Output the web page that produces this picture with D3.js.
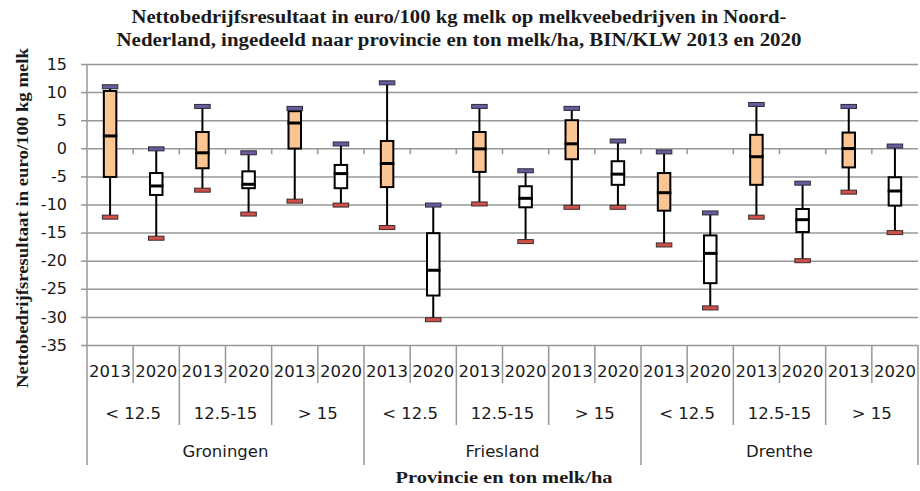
<!DOCTYPE html>
<html><head><meta charset="utf-8">
<script src="https://cdn.jsdelivr.net/npm/d3@7"></script>
<style>body{margin:0;background:#fff}text{fill:#1a1a1a}</style>
</head><body>
<svg id="c" width="920" height="491"></svg>
<script>
// ---- data ----
const provinces = ["Groningen", "Friesland", "Drenthe"];
const ranges = ["< 12.5", "12.5-15", "> 15"];
const years = ["2013", "2020"];
// order: Groningen(<12.5 2013, <12.5 2020, 12.5-15 2013, 12.5-15 2020, >15 2013, >15 2020), Friesland(...), Drenthe(...)
const maxV = [10.95, -0.1, 7.45, -0.8, 7.1, 0.77, 11.65, -10.1, 7.45, -4.0, 7.1, 1.3, -0.65, -11.5, 7.8, -6.2, 7.45, 0.4];
const q3V  = [10.2, -4.4, 2.9, -4.1, 6.6, -2.96, 1.3, -15.1, 2.9, -6.75, 5.0, -2.3, -4.4, -15.5, 2.4, -10.8, 2.8, -5.15];
const medV = [2.2, -6.7, -0.8, -6.4, 4.5, -4.5, -2.7, -21.7, -0.1, -8.9, 0.8, -4.6, -7.9, -18.7, -1.5, -12.7, -0.05, -7.6];
const q1V  = [-5.1, -8.3, -3.55, -7.1, -0.05, -7.1, -6.9, -26.2, -4.2, -10.5, -1.95, -6.5, -11.1, -24.0, -6.5, -14.9, -3.4, -10.2];
const minV = [-12.25, -16.0, -7.45, -11.7, -9.4, -10.1, -14.1, -30.5, -9.9, -16.6, -10.5, -10.5, -17.2, -28.4, -12.25, -20.0, -7.8, -15.0];
const yTicks = [15, 10, 5, 0, -5, -10, -15, -20, -25, -30, -35];
const yTickLabels = ["15", "10", "5", "0", "-5", "-10", "-15", "-20", "-25", "-30", "-35"];
const titleLines = ["Nettobedrijfsresultaat  in euro/100 kg melk op melkveebedrijven in Noord-",
                    "Nederland, ingedeeld naar provincie en ton melk/ha, BIN/KLW 2013 en 2020"];
const yTitle = "Nettobedrijfsresultaat  in euro/100 kg melk";
const xTitle = "Provincie en ton melk/ha";

// ---- build ----
const cats = [];
provinces.forEach(p => ranges.forEach(r => years.forEach(y => cats.push({p, r, y, key: p + "|" + r + "|" + y}))));
cats.forEach((c, i) => { c.max = maxV[i]; c.q3 = q3V[i]; c.med = medV[i]; c.q1 = q1V[i]; c.min = minV[i]; });

const svg = d3.select("#c");
const L = 87, R = 918, T = 64, B = 345;
const x = d3.scaleBand().domain(cats.map(c => c.key)).range([L, R]);
const y = d3.scaleLinear().domain([-35, 15]).range([B, T]);
const grid = "#979797";
const labelFont = "'DejaVu Sans', sans-serif";
const serif = "'Liberation Serif', 'Times New Roman', serif";

// gridlines
const g = svg.append("g").attr("transform", `translate(${L},0)`)
  .call(d3.axisLeft(y).tickValues(yTicks).tickSize(-(R - L)).tickFormat(""));
g.select(".domain").remove();
g.selectAll("line").attr("stroke", grid).attr("stroke-width", 1.5);

// y axis
const ya = svg.append("g").attr("transform", `translate(${L},0)`)
  .call(d3.axisLeft(y).tickValues(yTicks).tickSize(6).tickPadding(14)
    .tickFormat((d, i) => yTickLabels[i]));
ya.select(".domain").remove();
ya.selectAll("line").attr("stroke", grid).attr("stroke-width", 1.5);
ya.selectAll("text").attr("font-family", labelFont).attr("font-size", 16).attr("fill", "#1a1a1a");

// left axis line extending through category table
svg.append("line").attr("x1", L).attr("x2", L).attr("y1", T).attr("y2", 465)
  .attr("stroke", grid).attr("stroke-width", 1.5);

// zero-line tick marks at category boundaries
const step = x.step();
svg.append("g").selectAll("line").data(d3.range(1, cats.length)).join("line")
  .attr("x1", i => L + i * step).attr("x2", i => L + i * step)
  .attr("y1", y(0)).attr("y2", y(0) + 6)
  .attr("stroke", grid).attr("stroke-width", 1.5);

// category table separators
svg.append("g").selectAll("line").data(d3.range(1, cats.length + 1)).join("line")
  .attr("x1", i => L + i * step).attr("x2", i => L + i * step)
  .attr("y1", B)
  .attr("y2", i => i % 6 === 0 ? 465 : (i % 2 === 0 ? 425 : 383))
  .attr("stroke", grid).attr("stroke-width", 1.5);

// year labels
svg.append("g").selectAll("text").data(cats).join("text")
  .attr("x", c => x(c.key) + x.bandwidth() / 2).attr("y", 377)
  .attr("text-anchor", "middle").attr("font-family", labelFont).attr("font-size", 16.5)
  .text(c => c.y);
// range labels
const rangeCats = cats.filter((c, i) => i % 2 === 0);
svg.append("g").selectAll("text").data(rangeCats).join("text")
  .attr("x", c => x(c.key) + step).attr("y", 419)
  .attr("text-anchor", "middle").attr("font-family", labelFont).attr("font-size", 16.5)
  .text(c => c.r);
// province labels
const provCats = cats.filter((c, i) => i % 6 === 0);
svg.append("g").selectAll("text").data(provCats).join("text")
  .attr("x", c => x(c.key) + step * 3).attr("y", 457)
  .attr("text-anchor", "middle").attr("font-family", labelFont).attr("font-size", 16.5)
  .text(c => c.p);

// boxes
const bw = 12.5, cw = 15.5;
const bx = svg.append("g").selectAll("g").data(cats).join("g")
  .attr("transform", c => `translate(${x(c.key) + x.bandwidth() / 2},0)`);
bx.append("line").attr("x1", 0).attr("x2", 0).attr("y1", c => y(c.max)).attr("y2", c => y(c.q3))
  .attr("stroke", "#000").attr("stroke-width", 2);
bx.append("line").attr("x1", 0).attr("x2", 0).attr("y1", c => y(c.q1)).attr("y2", c => y(c.min))
  .attr("stroke", "#000").attr("stroke-width", 2);
bx.append("rect").attr("x", -bw / 2).attr("width", bw)
  .attr("y", c => y(c.q3)).attr("height", c => y(c.q1) - y(c.q3))
  .attr("fill", (c) => c.y === "2013" ? "#fac592" : "#ffffff")
  .attr("stroke", "#000").attr("stroke-width", 2);
bx.append("line").attr("x1", -bw / 2 - 1).attr("x2", bw / 2 + 1)
  .attr("y1", c => y(c.med)).attr("y2", c => y(c.med))
  .attr("stroke", "#000").attr("stroke-width", 3);
bx.append("rect").attr("x", -cw / 2).attr("width", cw).attr("y", c => y(c.max) - 2).attr("height", 4)
  .attr("fill", "#6c5a9c").attr("stroke", "#2a2a3a").attr("stroke-width", 1);
bx.append("rect").attr("x", -cw / 2).attr("width", cw).attr("y", c => y(c.min) - 2).attr("height", 4)
  .attr("fill", "#d2504a").attr("stroke", "#3a2a2a").attr("stroke-width", 1);

// titles
const titleWidths = [655, 685];
svg.append("g").selectAll("text").data(titleLines).join("text")
  .attr("x", 459).attr("y", (d, i) => 23 + i * 23)
  .attr("text-anchor", "middle").attr("font-family", serif).attr("font-weight", "bold")
  .attr("font-size", 18).attr("textLength", (d, i) => titleWidths[i])
  .attr("lengthAdjust", "spacingAndGlyphs").text(d => d);
svg.append("text").attr("transform", `translate(28,218) rotate(-90)`)
  .attr("text-anchor", "middle").attr("font-family", serif).attr("font-weight", "bold")
  .attr("font-size", 17.5).attr("textLength", 340).attr("lengthAdjust", "spacingAndGlyphs")
  .text(yTitle);
svg.append("text").attr("x", 504).attr("y", 483)
  .attr("text-anchor", "middle").attr("font-family", serif).attr("font-weight", "bold")
  .attr("font-size", 17.5).attr("textLength", 217).attr("lengthAdjust", "spacingAndGlyphs")
  .text(xTitle);
</script>
</body></html>
